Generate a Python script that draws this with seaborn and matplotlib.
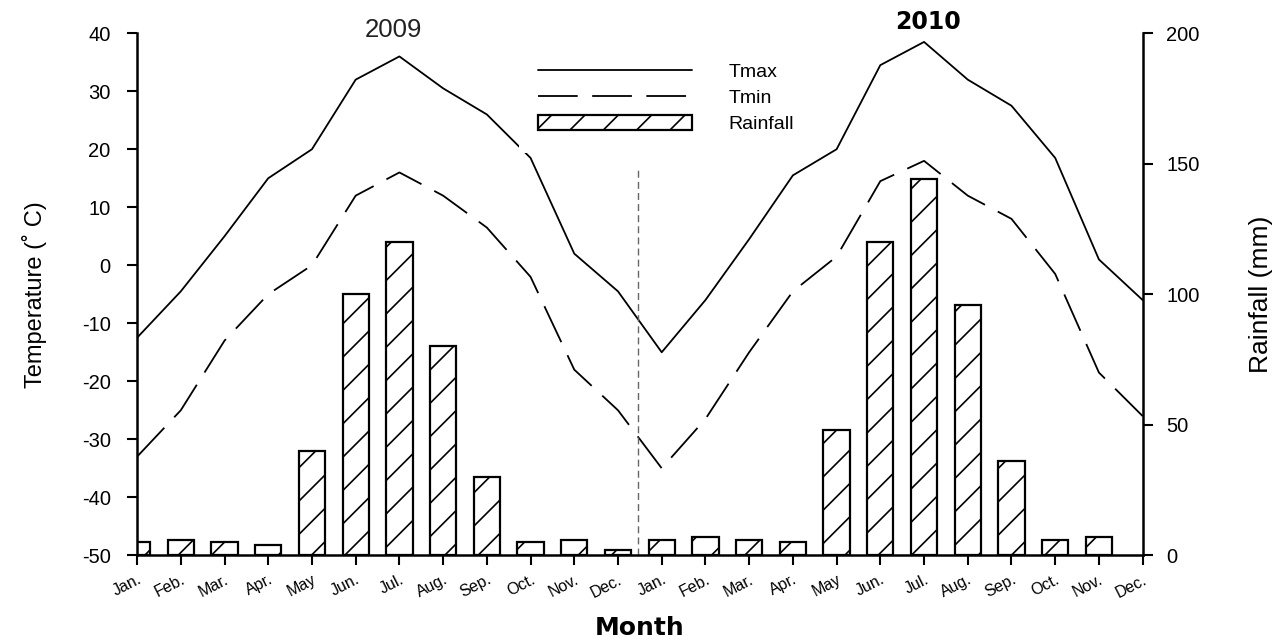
import matplotlib
matplotlib.use('Agg')
import matplotlib.pyplot as plt
from matplotlib.lines import Line2D
from matplotlib.patches import Patch
import seaborn as sns
import pandas as pd

# Monthly climate data, 2009 and 2010
months = ['Jan.', 'Feb.', 'Mar.', 'Apr.', 'May', 'Jun.', 'Jul.', 'Aug.', 'Sep.', 'Oct.', 'Nov.', 'Dec.']
tmax_2009 = [-12.5, -4.5, 5, 15, 20, 32, 36, 30.5, 26, 18.5, 2, -4.5]
tmin_2009 = [-33, -25, -13, -5, 0, 12, 16, 12, 6.5, -2, -18, -25]
rain_2009 = [5, 6, 5, 4, 40, 100, 120, 80, 30, 5, 6, 2]
tmax_2010 = [-15, -6, 4.5, 15.5, 20, 34.5, 38.5, 32, 27.5, 18.5, 1, -6]
tmin_2010 = [-35, -26.5, -15, -4.5, 1.5, 14.5, 18, 12, 8, -1.5, -18.5, -26]
rain_2010 = [6, 7, 6, 5, 48, 120, 144, 96, 36, 6, 7, 0]

df = pd.DataFrame({
    'idx': list(range(24)),
    'month': months + months,
    'tmax': tmax_2009 + tmax_2010,
    'tmin': tmin_2009 + tmin_2010,
    'rain': rain_2009 + rain_2010,
})

sns.set_theme(style='ticks')
plt.rcParams['font.family'] = ['Liberation Sans', 'DejaVu Sans']
plt.rcParams['axes.unicode_minus'] = False
plt.rcParams['hatch.linewidth'] = 1.2
plt.rcParams['hatch.color'] = 'black'
for key in ['text.color', 'axes.labelcolor', 'xtick.color', 'ytick.color', 'axes.edgecolor']:
    plt.rcParams[key] = 'black'

fig, ax = plt.subplots(figsize=(12.81, 6.39), dpi=100)
fig.subplots_adjust(left=0.107, right=0.892, bottom=0.131, top=0.948)
ax2 = ax.twinx()

# rainfall bars (right axis); months with no rain get no bar
sns.barplot(data=df[df['rain'] > 0], x='idx', y='rain', ax=ax2, native_scale=True, width=0.6,
            color='white', saturation=1, edgecolor='black', linewidth=1.6,
            hatch='/', errorbar=None)

# temperature lines (left axis)
tmin_style = (0, (22, 8))
sns.lineplot(data=df, x='idx', y='tmax', ax=ax, color='black', lw=1.3)
sns.lineplot(data=df, x='idx', y='tmin', ax=ax, color='black', lw=1.3, linestyle=tmin_style)
ax.vlines(11.45, -50, 17, colors='#666666', linestyles=(0, (5, 3)), lw=1)

ax.set_zorder(ax2.get_zorder() + 1)
ax.patch.set_visible(False)

ax.set_xlim(0, 23)
ax.set_ylim(-50, 40)
ax2.set_ylim(0, 200)
ax.set_yticks(range(-50, 41, 10))
ax2.set_yticks(range(0, 201, 50))
ax.set_xticks(range(24))
ax.set_xticklabels(df['month'], rotation=27, ha='right', rotation_mode='anchor', fontsize=11.5)
ax.tick_params(axis='y', labelsize=14.5, length=7, width=1.5, pad=12)
ax.tick_params(axis='x', length=7, width=1.5, pad=5)
ax2.tick_params(axis='y', labelsize=14.5, length=7, width=1.5, pad=10)

for s in ['top', 'right']:
    ax.spines[s].set_visible(False)
for s in ['top', 'left', 'bottom']:
    ax2.spines[s].set_visible(False)
for s in ['left', 'bottom']:
    ax.spines[s].set_linewidth(1.8)
ax2.spines['right'].set_linewidth(1.8)

ax.set_xlabel('Month', fontsize=18, fontweight='bold', family='DejaVu Sans')
ax.xaxis.set_label_coords(0.5, -0.117)
ax.set_ylabel('Temperature (˚ C)', fontsize=17)
ax.yaxis.set_label_coords(-0.09, 0.5)
ax2.set_ylabel('Rainfall (mm)', fontsize=19)
ax2.yaxis.set_label_coords(1.106, 0.5)

handles = [
    Line2D([], [], color='black', lw=1.3),
    Line2D([], [], color='black', lw=1.3, linestyle=tmin_style),
    Patch(facecolor='white', edgecolor='black', hatch='/', lw=1.6),
]
ax.legend(handles, ['Tmax', 'Tmin', 'Rainfall'], loc='upper left',
          bbox_to_anchor=(0.405, 0.933), bbox_transform=fig.transFigure,
          fontsize=14, handlelength=7.9, handletextpad=1.9, labelspacing=0.4,
          handleheight=0.85, borderpad=1.0, borderaxespad=0, frameon=True,
          facecolor='white', edgecolor='none', framealpha=1, fancybox=False)

fig.text(393 / 1281, 1 - 30 / 639, '2009', ha='center', va='center', fontsize=18.5, color='#222222')
fig.text(928 / 1281, 1 - 22 / 639, '2010', ha='center', va='center', fontsize=17,
         fontweight='bold', family='DejaVu Sans',
         bbox=dict(facecolor='white', edgecolor='none', pad=4))

fig.savefig('out.png', dpi=100)
